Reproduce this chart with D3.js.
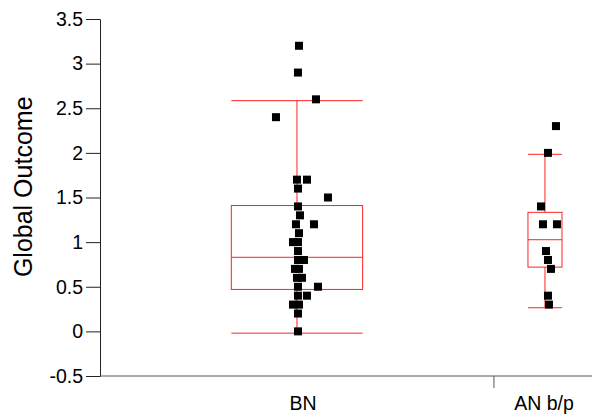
<!DOCTYPE html>
<html>
<head>
<meta charset="utf-8">
<script src="https://cdn.jsdelivr.net/npm/d3@7"></script>
<style>
  body { margin: 0; background: #fff; }
  text { font-family: "Liberation Sans", Arial, sans-serif; }
</style>
</head>
<body>
<svg id="chart" width="592" height="414"></svg>
<script>
// groups and their box statistics
var groups = ['BN', 'AN b/p'];
var groupWeights = [3.86, 1];          // relative band widths on the x axis
var whiskerLow = [-0.02, 0.265];
var q1 = [0.47, 0.72];
var median = [0.83, 1.027];
var q3 = [1.41, 1.334];
var whiskerHigh = [2.585, 1.984];

// raw points, value and horizontal jitter (in px) per group
var bnValues = [3.2, 2.9, 2.6, 2.4, 1.7, 1.7, 1.6, 1.5, 1.4, 1.3, 1.2, 1.2, 1.1, 1.0, 1.0, 0.9,
    0.8, 0.8, 0.7, 0.7, 0.6, 0.6, 0.5, 0.5, 0.4, 0.4, 0.3, 0.3, 0.2, 0.0];
var bnJitter = [2, 1, 19, -21, 0, 10, 1, 31, 1, 3, -1, 17, 2, -4, 1, 1,
    1, 7, -2, 2, 0, 5, 1, 21, 1, 10, -4, 2, 1, 1];
var anValues = [2.3, 2.0, 1.4, 1.2, 1.2, 0.9, 0.8, 0.7, 0.4, 0.3];
var anJitter = [11, 3, -4, -2, 12, 1, 3, 6, 3, 4];

var yTicks = [-0.5, 0, 0.5, 1, 1.5, 2, 2.5, 3, 3.5];

var svg = d3.select('#chart');
var margin = { top: 19, right: -4, bottom: 38, left: 100 },
    width = +svg.attr('width') - margin.left - margin.right,
    height = +svg.attr('height') - margin.top - margin.bottom;

var g = svg.append('g').attr('transform', 'translate(' + margin.left + ',' + margin.top + ')');

var y = d3.scaleLinear().domain([-0.5, 3.5]).range([height, 0]);

// cumulative band edges
var totalWeight = d3.sum(groupWeights);
var x = d3.scaleLinear().domain([0, totalWeight]).range([0, width]);
var edges = [0];
groupWeights.forEach(function(w, i) { edges.push(edges[i] + w); });
var centers = groups.map(function(d, i) { return x((edges[i] + edges[i + 1]) / 2); });
var boxWidths = groups.map(function(d, i) { return (x(edges[i + 1]) - x(edges[i])) / 3; });

// y axis
var yAxis = g.append('g')
    .call(d3.axisLeft(y).tickValues(yTicks).tickSize(14).tickPadding(3)
        .tickFormat(function(d) { return String(d); }));
yAxis.select('.domain').attr('stroke', '#222');
yAxis.selectAll('.tick line').attr('stroke', '#222');
yAxis.selectAll('.tick text').attr('font-size', 19.5).attr('fill', '#000')
    .attr('font-family', '"Liberation Sans", Arial, sans-serif');

g.append('text')
    .attr('transform', 'translate(-68,' + (y(1.62)) + ') rotate(-90)')
    .attr('text-anchor', 'middle')
    .attr('font-size', 25)
    .text('Global Outcome');

// x axis
g.append('line')
    .attr('x1', 0).attr('x2', width)
    .attr('y1', height).attr('y2', height)
    .attr('stroke', '#555');
g.append('line')
    .attr('x1', x(edges[1])).attr('x2', x(edges[1]))
    .attr('y1', height).attr('y2', height + 12)
    .attr('stroke', '#555');
g.selectAll('.cat')
    .data(groups)
    .enter().append('text')
    .attr('class', 'cat')
    .attr('x', function(d, i) { return centers[i] + (i === 0 ? 6 : -1); })
    .attr('y', height + 34)
    .attr('text-anchor', 'middle')
    .attr('font-size', 19.5)
    .text(function(d) { return d; });

// boxes
var red = '#f22';
groups.forEach(function(d, i) {
    var cx = centers[i], bw = boxWidths[i];
    var bg = g.append('g').attr('fill', 'none').attr('stroke', red).attr('stroke-width', 1);
    bg.append('line').attr('x1', cx).attr('x2', cx).attr('y1', y(whiskerLow[i])).attr('y2', y(q1[i]));
    bg.append('line').attr('x1', cx).attr('x2', cx).attr('y1', y(q3[i])).attr('y2', y(whiskerHigh[i]));
    bg.append('rect').attr('x', cx - bw / 2).attr('width', bw)
        .attr('y', y(q3[i])).attr('height', y(q1[i]) - y(q3[i]));
    [whiskerLow[i], median[i], whiskerHigh[i]].forEach(function(v) {
        bg.append('line').attr('x1', cx - bw / 2).attr('x2', cx + bw / 2)
            .attr('y1', y(v)).attr('y2', y(v));
    });
});

// points
var pts = bnValues.map(function(v, i) { return { g: 0, v: v, j: bnJitter[i] }; })
    .concat(anValues.map(function(v, i) { return { g: 1, v: v, j: anJitter[i] }; }));
g.selectAll('.pt')
    .data(pts)
    .enter().append('rect')
    .attr('class', 'pt')
    .attr('x', function(d) { return centers[d.g] + d.j - 4; })
    .attr('y', function(d) { return y(d.v) - 4; })
    .attr('width', 8).attr('height', 8)
    .attr('fill', '#000');
</script>
</body>
</html>
